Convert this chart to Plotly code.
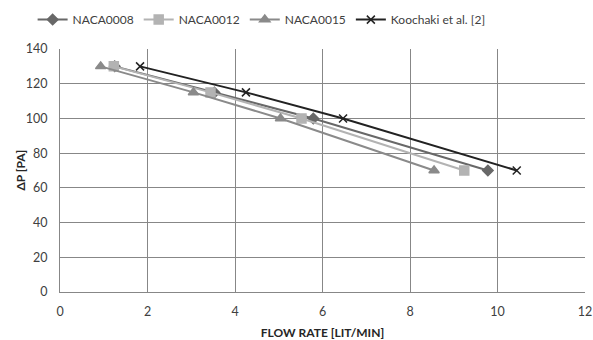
import plotly.graph_objects as go

dp = [130, 115, 100, 70]
naca0008_q = [1.25, 3.53, 5.79, 9.78]
naca0012_q = [1.23, 3.44, 5.52, 9.24]
naca0015_q = [0.93, 3.05, 5.04, 8.55]
koochaki_q = [1.83, 4.25, 6.47, 10.44]

series = [
    ("NACA0008", naca0008_q, "#686868", "diamond", 8),
    ("NACA0012", naca0012_q, "#b3b3b3", "square", 9),
    ("NACA0015", naca0015_q, "#8a8a8a", "triangle-up", 9),
    ("Koochaki et al. [2]", koochaki_q, "#222222", "x-thin", 8),
]

fig = go.Figure()
for name, q, color, sym, size in series:
    fig.add_trace(go.Scatter(
        x=q, y=dp, name=name, mode="lines+markers",
        line=dict(color=color, width=2),
        marker=dict(symbol=sym, size=size, color=color,
                    line=dict(color=color, width=1.5)),
    ))

font = "Lato, 'Open Sans', sans-serif"
fig.update_layout(
    width=593, height=340,
    margin=dict(l=60, r=8, t=49, b=48, autoexpand=False),
    paper_bgcolor="white", plot_bgcolor="white",
    font=dict(family=font, size=12, color="#404040"),
    legend=dict(orientation="h", xref="container", x=0.055, xanchor="left",
                yref="container", y=0.985, yanchor="top",
                bgcolor="rgba(0,0,0,0)",
                font=dict(size=12, color="#404040"),
                itemwidth=30, tracegroupgap=0),
    showlegend=True,
)
fig.add_annotation(
    text="<b>ΔP [PA]</b>", textangle=-90, showarrow=False,
    xref="paper", yref="paper", x=-0.076, y=0.5, xanchor="center", yanchor="middle",
    font=dict(size=12, color="#262626"),
)
fig.update_xaxes(
    range=[0, 12], dtick=2, tick0=0, automargin=False,
    showgrid=True, gridcolor="#878787", gridwidth=1,
    showline=True, linecolor="#878787", linewidth=1, mirror=False,
    zeroline=False, ticks="", ticklabelstandoff=8,
    tickfont=dict(size=12.5, color="#404040"),
    title=dict(text="<b>FLOW RATE [LIT/MIN]</b>", font=dict(size=12, color="#262626"), standoff=10),
)
fig.update_yaxes(
    range=[0, 140], dtick=20, tick0=0, automargin=False,
    showgrid=True, gridcolor="#878787", gridwidth=1,
    showline=True, linecolor="#878787", linewidth=1,
    zeroline=False, ticks="", ticklabelstandoff=9,
    tickfont=dict(size=12.5, color="#404040"),
)
fig.write_html("out.html")
